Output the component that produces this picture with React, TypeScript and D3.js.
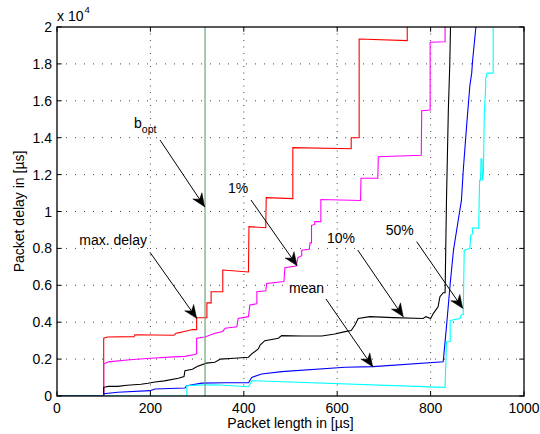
import React from "react";
import * as d3 from "d3";

const X_TICKS = [0, 200, 400, 600, 800, 1000];
const Y_TICKS = [0, 2000, 4000, 6000, 8000, 10000, 12000, 14000, 16000, 18000, 20000];
const Y_TICK_LABELS = ["0", "0.2", "0.4", "0.6", "0.8", "1", "1.2", "1.4", "1.6", "1.8", "2"];
const B_OPT = 317;

const maxDelay: [number, number][] = [
  [0, 0], [100, 0], [100, 3130], [108, 3200], [165, 3220], [167, 3320], [250, 3290], [255, 3400],
  [265, 3450], [272, 3500], [282, 3550], [290, 3600], [299, 3600], [299, 4240], [321, 4240],
  [321, 5050], [330, 5050], [330, 5650], [355, 5650], [355, 6830], [410, 6720], [411, 9180],
  [447, 9120], [448, 10750], [505, 10700], [505, 13460], [630, 13400], [630, 14000], [647, 14000],
  [647, 19350], [750, 19260], [750, 20500],
];

const pct1: [number, number][] = [
  [0, 0], [100, 0], [100, 1730], [110, 1850], [150, 1950], [200, 2050], [250, 2120], [274, 2150],
  [295, 2250], [299, 2300], [299, 3130], [317, 3200], [338, 3400], [355, 3500], [360, 3670],
  [385, 3750], [388, 4200], [410, 4300], [413, 4930], [428, 5000], [428, 5650], [447, 5700],
  [449, 6100], [486, 6200], [488, 6950], [512, 7050], [516, 7500], [524, 7600], [524, 7900],
  [540, 7950], [542, 8300], [545, 8300], [545, 9250], [552, 9300], [552, 9450], [565, 9450],
  [565, 10650], [650, 10600], [651, 11800], [687, 11800], [688, 12970], [780, 13050],
  [781, 15460], [799, 15500], [799, 19170], [831, 19200], [831, 20500],
];

const pct10: [number, number][] = [
  [0, 0], [100, 0], [100, 470], [110, 520], [130, 520], [150, 580], [180, 640], [195, 690],
  [210, 760], [230, 820], [260, 960], [272, 1050], [274, 1370], [290, 1450], [300, 1600],
  [320, 1780], [338, 1830], [350, 2000], [380, 2050], [410, 2100], [417, 2280], [431, 2550],
  [435, 2760], [445, 3000], [474, 3130], [481, 3270], [524, 3250], [567, 3250], [595, 3360],
  [617, 3490], [630, 3550], [638, 3850], [645, 4200], [670, 4300], [720, 4250], [784, 4200],
  [790, 4300], [800, 4200], [806, 4480], [816, 4840], [820, 5380], [827, 5600], [831, 5600],
  [834, 10600], [838, 15500], [841, 17900], [843, 20500],
];

const meanDelay: [number, number][] = [
  [0, 0], [100, 0], [100, 120], [130, 200], [199, 290], [210, 380], [274, 430], [278, 560],
  [310, 700], [360, 720], [410, 720], [417, 1010], [438, 1190], [481, 1320], [617, 1560],
  [677, 1590], [827, 1860], [834, 3760], [842, 6100], [849, 7900], [859, 9500], [866, 10600],
  [870, 12250], [877, 14600], [884, 16800], [888, 17500], [890, 18200], [897, 20000], [898, 20500],
];

const pct50: [number, number][] = [
  [0, 0], [278, 0], [278, 560], [300, 590], [340, 610], [410, 500], [417, 830], [830, 470],
  [831, 470], [834, 2940], [842, 2950], [842, 4100], [863, 4200], [866, 4400], [870, 4400],
  [870, 4750], [872, 7900], [884, 8000], [886, 8700], [890, 8800], [890, 9100], [903, 9100],
  [904, 10600], [905, 11700], [907, 11700], [908, 12850], [910, 12850], [911, 11700],
  [913, 12000], [915, 15300], [918, 16800], [918, 17200], [921, 17500], [934, 17500], [934, 20500],
];

const SERIES = [
  { data: maxDelay, color: "#ff0000" },
  { data: pct1, color: "#ff00ff" },
  { data: pct10, color: "#000000" },
  { data: meanDelay, color: "#0000ff" },
  { data: pct50, color: "#00ffff" },
];

// annotations in data units: text position (left, baseline), arrow start and tip
const ANNOTATIONS = [
  { text: "b", sub: "opt", tx: 165, ty: 14525, ax: 220.6, ay: 13875, bx: 316, by: 10260 },
  { text: "1%", sub: "", tx: 366, ty: 11003, ax: 415.4, ay: 10623, bx: 513.9, by: 7073 },
  { text: "10%", sub: "", tx: 578, ty: 8293, ax: 643.9, ay: 7913, bx: 741.5, by: 4298 },
  { text: "50%", sub: "", tx: 703.9, ty: 8726, ax: 770.2, ay: 8363, bx: 868.7, by: 4753 },
  { text: "mean", sub: "", tx: 496.8, ty: 5599, ax: 576, ay: 5257, bx: 676, by: 1588 },
  { text: "max. delay", sub: "", tx: 47.8, ty: 8184, ax: 199.1, ay: 7789, bx: 299.1, by: 4211 },
];

const W = 540;
const H = 434;
const L = 57, R = 524, T = 27, B = 396;
const FONT = "'Liberation Sans', Arial, Helvetica, sans-serif";

function arrowHead(x1: number, y1: number, x2: number, y2: number) {
  const dx = x2 - x1, dy = y2 - y1;
  const len = Math.hypot(dx, dy);
  const ux = dx / len, uy = dy / len;
  const px = -uy, py = ux;
  const hl = 13, hw = 5.5, notch = 9;
  const bx = x2 - ux * hl, by = y2 - uy * hl;
  const nx = x2 - ux * notch, ny = y2 - uy * notch;
  return `M${x2},${y2}L${bx + px * hw},${by + py * hw}L${nx},${ny}L${bx - px * hw},${by - py * hw}Z`;
}

export default function App() {
  const x = d3.scaleLinear().domain([0, 1000]).range([L, R]);
  const y = d3.scaleLinear().domain([0, 20000]).range([B, T]);
  const line = d3.line<[number, number]>().x((d) => x(d[0])).y((d) => y(d[1]));
  const tickLen = 4.7;

  return (
    <svg width={W} height={H} style={{ position: "absolute", left: 0, top: 0, background: "#fff" }} fontFamily={FONT}>
      <rect x={0} y={0} width={W} height={H} fill="#fff" />
      <defs>
        <clipPath id="plotclip">
          <rect x={L} y={T} width={R - L} height={B - T} />
        </clipPath>
      </defs>
      {/* grid */}
      {X_TICKS.slice(1, -1).map((t) => (
        <line key={"gx" + t} x1={x(t)} x2={x(t)} y1={T} y2={B} stroke="#444" strokeWidth={1} strokeDasharray="1,5.5" />
      ))}
      {Y_TICKS.slice(1, -1).map((t) => (
        <line key={"gy" + t} x1={L} x2={R} y1={y(t)} y2={y(t)} stroke="#444" strokeWidth={1} strokeDasharray="1,8" />
      ))}
      {/* data */}
      <g clipPath="url(#plotclip)">
        {SERIES.map((s, i) => (
          <path key={i} d={line(s.data) || ""} fill="none" stroke={s.color} strokeWidth={1.1} strokeLinejoin="miter" />
        ))}
        <line x1={x(B_OPT)} x2={x(B_OPT)} y1={T} y2={B} stroke="#5c9c6c" strokeWidth={1.1} />
      </g>
      {/* ticks */}
      {X_TICKS.map((t) => (
        <g key={"tx" + t}>
          <line x1={x(t)} x2={x(t)} y1={B} y2={B - tickLen} stroke="#000" />
          <line x1={x(t)} x2={x(t)} y1={T} y2={T + tickLen} stroke="#000" />
          <text x={x(t)} y={413} textAnchor="middle" fontSize={14} fill="#000">{t}</text>
        </g>
      ))}
      {Y_TICKS.map((t, i) => (
        <g key={"ty" + t}>
          <line x1={L} x2={L + tickLen} y1={y(t)} y2={y(t)} stroke="#000" />
          <line x1={R} x2={R - tickLen} y1={y(t)} y2={y(t)} stroke="#000" />
          <text x={52} y={y(t)} dy="0.36em" textAnchor="end" fontSize={14} fill="#000">{Y_TICK_LABELS[i]}</text>
        </g>
      ))}
      {/* box */}
      <rect x={L} y={T} width={R - L} height={B - T} fill="none" stroke="#000" strokeWidth={1.3} />
      {/* exponent */}
      <text x={57} y={21} fontSize={14} fill="#000">x 10</text>
      <text x={84.5} y={13} fontSize={9.5} fill="#000">4</text>
      {/* axis labels */}
      <text x={(L + R) / 2} y={428} textAnchor="middle" fontSize={14} fill="#000">Packet length in [µs]</text>
      <text transform={`translate(23.5,${(T + B) / 2}) rotate(-90)`} textAnchor="middle" fontSize={14} fill="#000">
        Packet delay in [µs]
      </text>
      {/* annotations */}
      {ANNOTATIONS.map((a, i) => {
        const x1 = x(a.ax), y1 = y(a.ay), x2 = x(a.bx), y2 = y(a.by);
        return (
          <g key={"an" + i}>
            <text x={x(a.tx)} y={y(a.ty)} fontSize={14} fill="#000">
              {a.text}
              {a.sub ? (
                <tspan fontSize={10.5} dy={5}>{a.sub}</tspan>
              ) : null}
            </text>
            <line x1={x1} y1={y1} x2={x2} y2={y2} stroke="#000" strokeWidth={1} />
            <path d={arrowHead(x1, y1, x2, y2)} fill="#000" stroke="#000" strokeWidth={0.5} />
          </g>
        );
      })}
    </svg>
  );
}
